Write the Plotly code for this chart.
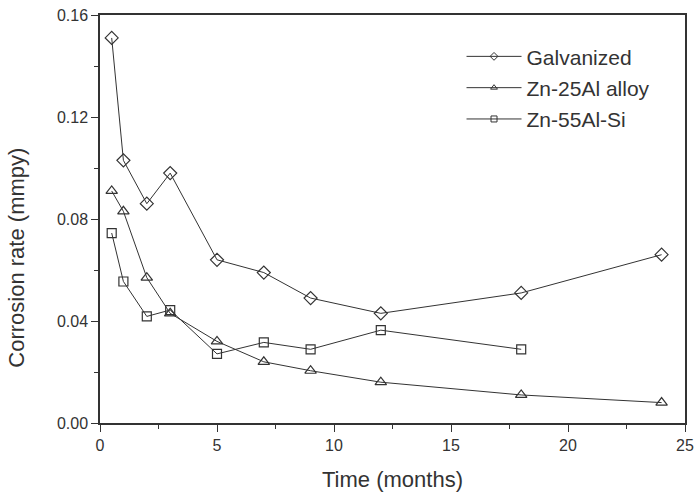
import plotly.graph_objects as go

time_galv = [0.5, 1, 2, 3, 5, 7, 9, 12, 18, 24]
galvanized = [0.151, 0.103, 0.086, 0.098, 0.064, 0.059, 0.049, 0.043, 0.051, 0.066]

time_zn25 = [0.5, 1, 2, 3, 5, 7, 9, 12, 18, 24]
zn25al = [0.091, 0.083, 0.057, 0.043, 0.032, 0.024, 0.0205, 0.016, 0.011, 0.008]

time_zn55 = [0.5, 1, 2, 3, 5, 7, 9, 12, 18]
zn55alsi = [0.0745, 0.0555, 0.0418, 0.0443, 0.0271, 0.0316, 0.0289, 0.0364, 0.0289]

names = ["Galvanized", "Zn-25Al alloy", "Zn-55Al-Si"]
symbols = ["diamond-open", "triangle-up-open", "square-open"]
xs = [time_galv, time_zn25, time_zn55]
ys = [galvanized, zn25al, zn55alsi]
sizes = [10, 10, 9]

col = "#333333"
fig = go.Figure()
for i in range(3):
    fig.add_trace(go.Scatter(
        x=xs[i], y=ys[i], name=names[i], mode="lines+markers",
        showlegend=False,
        line=dict(color=col, width=1),
        marker=dict(symbol=symbols[i], size=sizes[i], color=col,
                    line=dict(color=col, width=1.2)),
    ))
# legend entries with the smaller legend symbols of the original
for i in range(3):
    fig.add_trace(go.Scatter(
        x=[None], y=[None], name=names[i], mode="lines+markers",
        legendgroup=names[i],
        line=dict(color=col, width=1),
        marker=dict(symbol=symbols[i], size=6, color=col,
                    line=dict(color=col, width=1)),
    ))

font_family = "Liberation Sans, Arial, sans-serif"
fig.update_layout(
    width=696, height=496,
    margin=dict(l=100, r=11, t=15, b=73),
    paper_bgcolor="white", plot_bgcolor="white",
    font=dict(family=font_family, color=col, size=16),
    showlegend=True,
    legend=dict(x=0.618, y=0.948, xanchor="left", yanchor="top",
                font=dict(size=21, color=col), bgcolor="rgba(0,0,0,0)",
                itemwidth=55, traceorder="grouped", tracegroupgap=1),
    xaxis=dict(range=[0, 25], tickvals=[0, 5, 10, 15, 20, 25],
               automargin=False,
               ticks="outside", ticklen=7, tickwidth=1.2, tickcolor=col,
               minor=dict(tickvals=[2.5, 7.5, 12.5, 17.5, 22.5], ticks="outside",
                          ticklen=4, tickwidth=1.2, tickcolor=col),
               showline=True, linecolor=col, linewidth=1.5, mirror=True,
               showgrid=False, zeroline=False,
               tickfont=dict(size=16),
               title=dict(text="Time (months)", font=dict(size=22), standoff=19)),
    yaxis=dict(range=[0, 0.16], tickvals=[0, 0.04, 0.08, 0.12, 0.16],
               ticktext=["0.00", "0.04", "0.08", "0.12", "0.16"],
               automargin=False,
               ticks="outside", ticklen=7, tickwidth=1.2, tickcolor=col,
               minor=dict(tickvals=[0.02, 0.06, 0.10, 0.14], ticks="outside",
                          ticklen=4, tickwidth=1.2, tickcolor=col),
               showline=True, linecolor=col, linewidth=1.5, mirror=True,
               showgrid=False, zeroline=False,
               tickfont=dict(size=16)),
    annotations=[dict(text="Corrosion rate (mmpy)", textangle=-90,
                      xref="paper", yref="paper", x=-0.142, y=0.405,
                      xanchor="center", yanchor="middle", showarrow=False,
                      font=dict(size=22, color=col))],
)

fig.write_html("out.html")
